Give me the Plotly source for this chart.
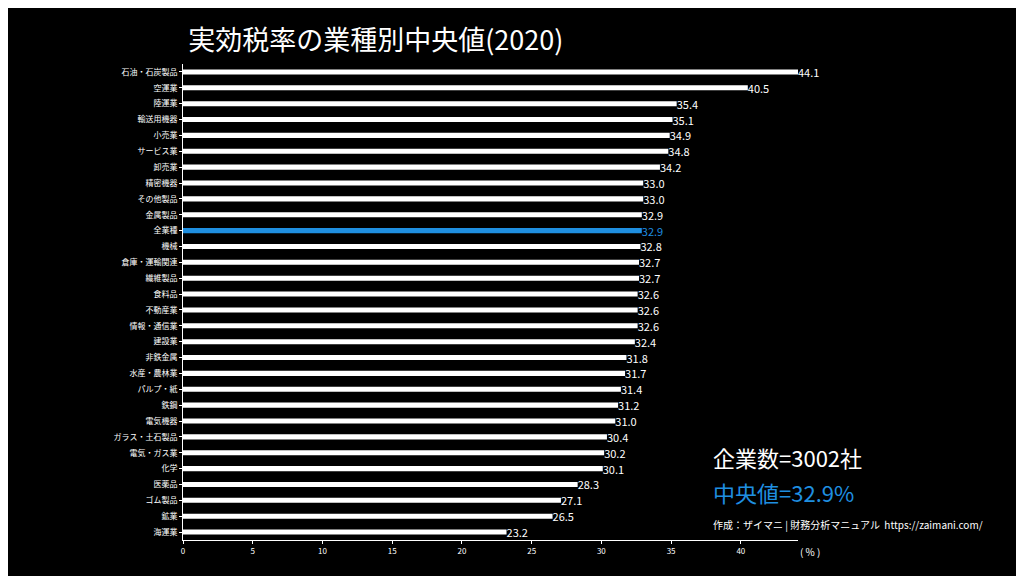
import plotly.graph_objects as go

categories = ["石油・石炭製品","空運業","陸運業","輸送用機器","小売業","サービス業","卸売業","精密機器","その他製品","金属製品","全業種","機械","倉庫・運輸関連","繊維製品","食料品","不動産業","情報・通信業","建設業","非鉄金属","水産・農林業","パルプ・紙","鉄鋼","電気機器","ガラス・土石製品","電気・ガス業","化学","医薬品","ゴム製品","鉱業","海運業"]
values = [44.1,40.5,35.4,35.1,34.9,34.8,34.2,33.0,33.0,32.9,32.9,32.8,32.7,32.7,32.6,32.6,32.6,32.4,31.8,31.7,31.4,31.2,31.0,30.4,30.2,30.1,28.3,27.1,26.5,23.2]
x_ticks = [0,5,10,15,20,25,30,35,40]

blue = "#1f8fe0"
colors = [blue if c == "全業種" else "white" for c in categories]

fig = go.Figure(go.Bar(
    x=values, y=categories, orientation="h",
    marker=dict(color=colors, line=dict(width=0)),
    text=[f"{v:.1f}" for v in values], textposition="outside",
    textfont=dict(color=colors, size=11), cliponaxis=False,
    constraintext="none",
))
fig.update_layout(
    width=1024, height=576, paper_bgcolor="black", plot_bgcolor="black",
    margin=dict(l=175, r=234, t=56, b=44, autoexpand=False), bargap=0.68,
    font=dict(family="Noto Sans CJK JP", color="white"),
    title=dict(text="実効税率の業種別中央値(2020)", x=0.176, xanchor="left", y=0.943, yanchor="middle",
               font=dict(size=27, color="white")),
    showlegend=False,
)
fig.update_yaxes(autorange="reversed", tickfont=dict(size=8), showline=True, automargin=False,
                 linecolor="white", ticks="outside", ticklen=3, tickcolor="white",
                 showgrid=False)
fig.update_xaxes(range=[0, 44.1], tickvals=x_ticks, tickfont=dict(size=8), automargin=False,
                 showline=True, linecolor="white", ticks="outside", ticklen=3,
                 tickcolor="white", showgrid=False, zeroline=False)
fig.add_annotation(text="企業数=3002社", xref="paper", yref="paper", x=0.858, y=0.175,
                   xanchor="left", yanchor="middle", showarrow=False, font=dict(size=22, color="white"))
fig.add_annotation(text="中央値=32.9%", xref="paper", yref="paper", x=0.858, y=0.1,
                   xanchor="left", yanchor="middle", showarrow=False, font=dict(size=22, color=blue))
fig.add_annotation(text="作成：ザイマニ | 財務分析マニュアル  https://zaimani.com/", xref="paper", yref="paper",
                   x=0.858, y=0.033, xanchor="left", yanchor="middle", showarrow=False,
                   font=dict(size=10, color="white"))
fig.add_annotation(text="( % )", xref="paper", yref="paper", x=1.02, y=-0.005,
                   xanchor="center", yanchor="top", showarrow=False, font=dict(size=10, color="white"))
fig.write_html("out.html")
